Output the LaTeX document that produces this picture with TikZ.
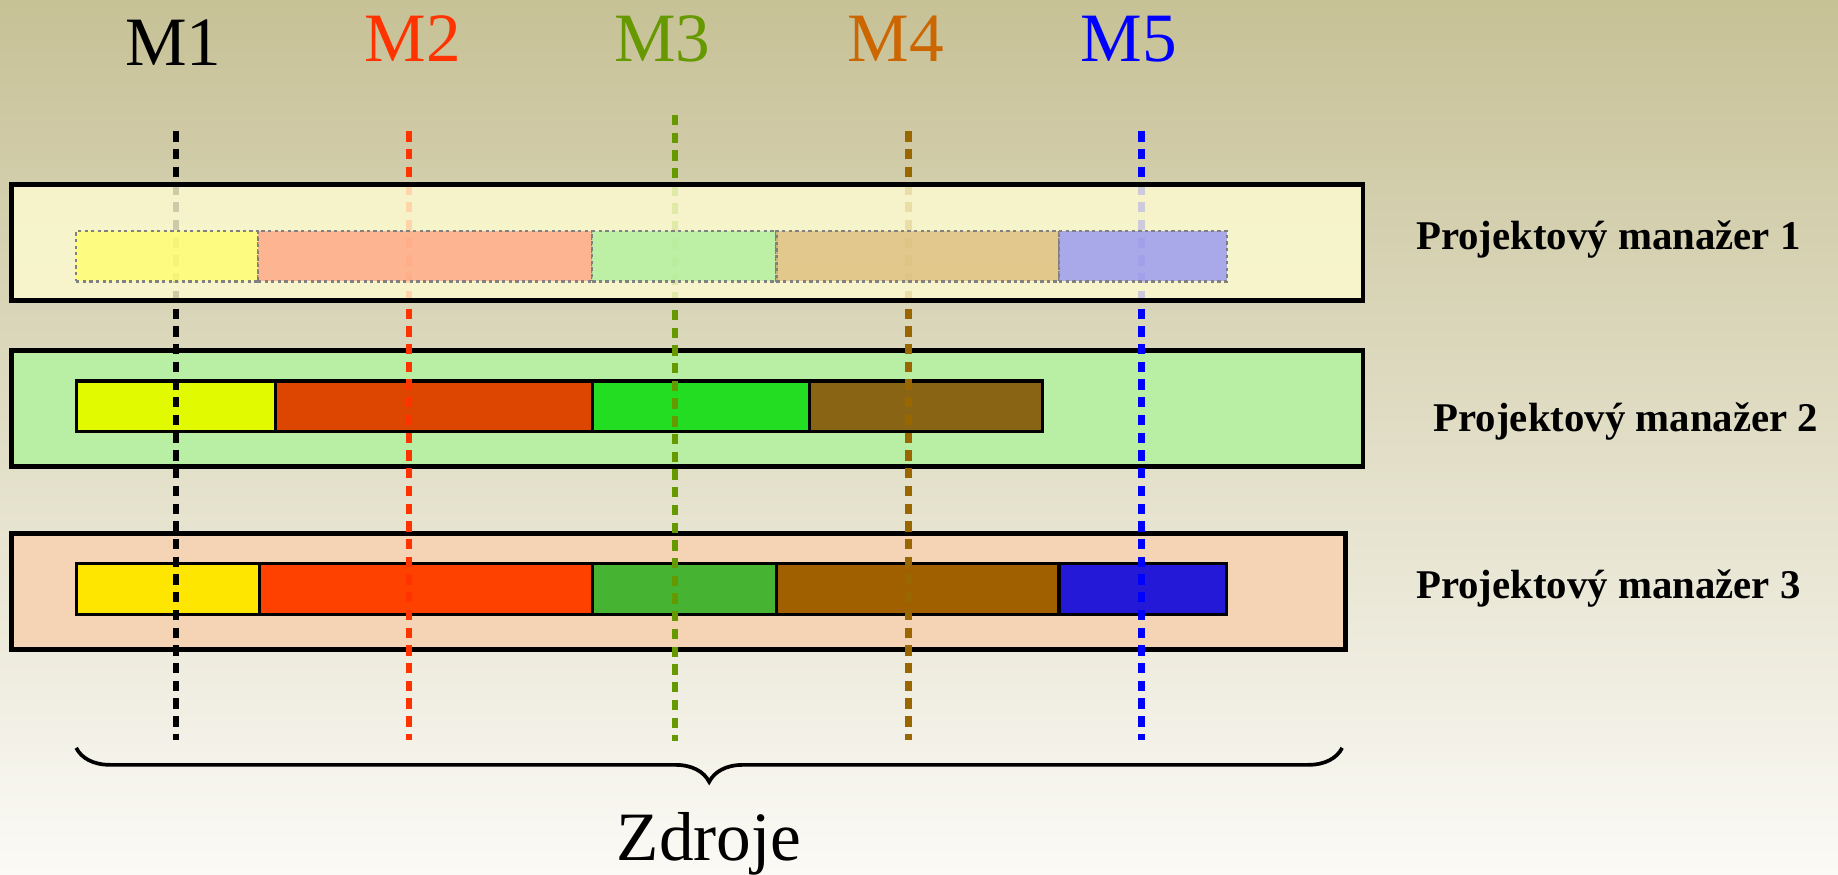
\documentclass[tikz,border=0pt]{standalone}
\usepackage{fontspec}
\setmainfont{Liberation Serif}
\usetikzlibrary{positioning,decorations.pathreplacing}

\definecolor{bgtop}{RGB}{199,193,150}
\definecolor{bgbot}{RGB}{251,250,246}
\definecolor{mred}{RGB}{255,51,0}
\definecolor{mgreen}{RGB}{102,153,0}
\definecolor{morange}{RGB}{204,102,0}
\definecolor{mbrown}{RGB}{153,102,0}
\definecolor{mblue}{RGB}{0,0,255}
\definecolor{pmone}{RGB}{255,253,210}
\definecolor{pmtwo}{RGB}{185,238,165}
\definecolor{pmthree}{RGB}{245,212,182}
\definecolor{c1a}{RGB}{255,255,110}
\definecolor{c1b}{RGB}{255,165,130}
\definecolor{c1c}{RGB}{175,240,155}
\definecolor{c1d}{RGB}{222,190,125}
\definecolor{c1e}{RGB}{150,150,240}
\definecolor{c2a}{RGB}{225,250,0}
\definecolor{c2b}{RGB}{220,70,0}
\definecolor{c2c}{RGB}{34,221,34}
\definecolor{c2d}{RGB}{136,100,20}
\definecolor{c3a}{RGB}{255,230,0}
\definecolor{c3b}{RGB}{255,65,0}
\definecolor{c3c}{RGB}{70,180,50}
\definecolor{c3d}{RGB}{160,96,0}
\definecolor{c3e}{RGB}{35,25,215}

\begin{document}
\begin{tikzpicture}[x=0.01cm,y=-0.01cm,semithick]
	\tikzstyle{pmbox}=[draw=black,line width=1.2pt,minimum height=0.99cm,inner sep=0pt,anchor=north west]
	\tikzstyle{seg}=[draw=black,line width=0.8pt,minimum height=0.43cm,inner sep=0pt,outer sep=0pt]
	\tikzstyle{paleseg}=[seg,draw=black!50,line width=0.6pt,dash pattern=on 0.8pt off 0.8pt,fill opacity=0.8]
	\tikzstyle{mlabel}=[font=\fontsize{16.8}{20}\selectfont,anchor=base]
	\tikzstyle{mline}=[line width=1.6pt,dash pattern=on 2.5pt off 1.8pt]
	\tikzstyle{pmlabel}=[font=\bfseries\fontsize{9.9}{12}\selectfont,anchor=base west,inner sep=0pt]
	\useasboundingbox (0,0) rectangle (1568,746);
	\shade[top color=bgtop,bottom color=bgbot] (0,0) rectangle (1568,746);
	% manazer 2 a 3
	\node[pmbox,fill=pmtwo,minimum width=11.52cm]   (pm2) at (8,297) {};
	\node[pmbox,fill=pmthree,minimum width=11.37cm] (pm3) at (8,453) {};
	\node[seg,fill=c2a,minimum width=1.70cm,anchor=north west] (b2a) at (65,325) {};
	\node[seg,fill=c2b,minimum width=2.70cm,right=0pt of b2a] (b2b) {};
	\node[seg,fill=c2c,minimum width=1.85cm,right=0pt of b2b] (b2c) {};
	\node[seg,fill=c2d,minimum width=1.99cm,right=0pt of b2c] (b2d) {};
	\node[seg,fill=c3a,minimum width=1.56cm,anchor=north west] (b3a) at (65,481) {};
	\node[seg,fill=c3b,minimum width=2.84cm,right=0pt of b3a] (b3b) {};
	\node[seg,fill=c3c,minimum width=1.57cm,right=0pt of b3b] (b3c) {};
	\node[seg,fill=c3d,minimum width=2.41cm,right=0pt of b3c] (b3d) {};
	\node[seg,fill=c3e,minimum width=1.43cm,right=0pt of b3d] (b3e) {};
	% M1 - M5
	\node[mlabel]              (m1) at (148,55.5) {M1};
	\node[mlabel,text=mred]    (m2) at (352,52.6) {M2};
	\node[mlabel,text=mgreen]  (m3) at (565,52.6) {M3};
	\node[mlabel,text=morange] (m4) at (764,52.6) {M4};
	\node[mlabel,text=mblue]   (m5) at (963,52.6) {M5};
	\coordinate (m1top) at (150,112); \coordinate (m1bot) at (150,631);
	\coordinate (m2top) at (349,112); \coordinate (m2bot) at (349,631);
	\coordinate (m3top) at (576,98);  \coordinate (m3bot) at (576,632);
	\coordinate (m4top) at (775,112); \coordinate (m4bot) at (775,631);
	\coordinate (m5top) at (974,112); \coordinate (m5bot) at (974,631);
	\draw[mline,black]  (m1top) -- (m1bot);
	\draw[mline,mred]   (m2top) -- (m2bot);
	\draw[mline,mgreen] (m3top) -- (m3bot);
	\draw[mline,mbrown] (m4top) -- (m4bot);
	\draw[mline,mblue]  (m5top) -- (m5bot);
	% manazer 1
	\node[pmbox,fill=pmone,fill opacity=0.8,minimum width=11.52cm] (pm1) at (8,155) {};
	\node[paleseg,fill=c1a,minimum width=1.55cm,anchor=north west] (b1a) at (65,197) {};
	\node[paleseg,fill=c1b,minimum width=2.85cm,right=0pt of b1a] (b1b) {};
	\node[paleseg,fill=c1c,minimum width=1.57cm,right=0pt of b1b] (b1c) {};
	\node[paleseg,fill=c1d,minimum width=2.41cm,right=0pt of b1c] (b1d) {};
	\node[paleseg,fill=c1e,minimum width=1.43cm,right=0pt of b1d] (b1e) {};
	\node[pmlabel] (l1) at (1207,212.7) {Projektový manažer 1};
	\node[pmlabel] (l2) at (1222,368.3) {Projektový manažer 2};
	\node[pmlabel] (l3) at (1207,510.4) {Projektový manažer 3};
	% zdroje
	\coordinate (zl) at (65,638); \coordinate (zr) at (1145,638);
	\draw[line width=0.9pt,decorate,decoration={brace,mirror,amplitude=0.29cm}] (zl) -- (zr);
	\node[mlabel] (zdroje) at (605,733.7) {Zdroje};
\end{tikzpicture}
\end{document}
